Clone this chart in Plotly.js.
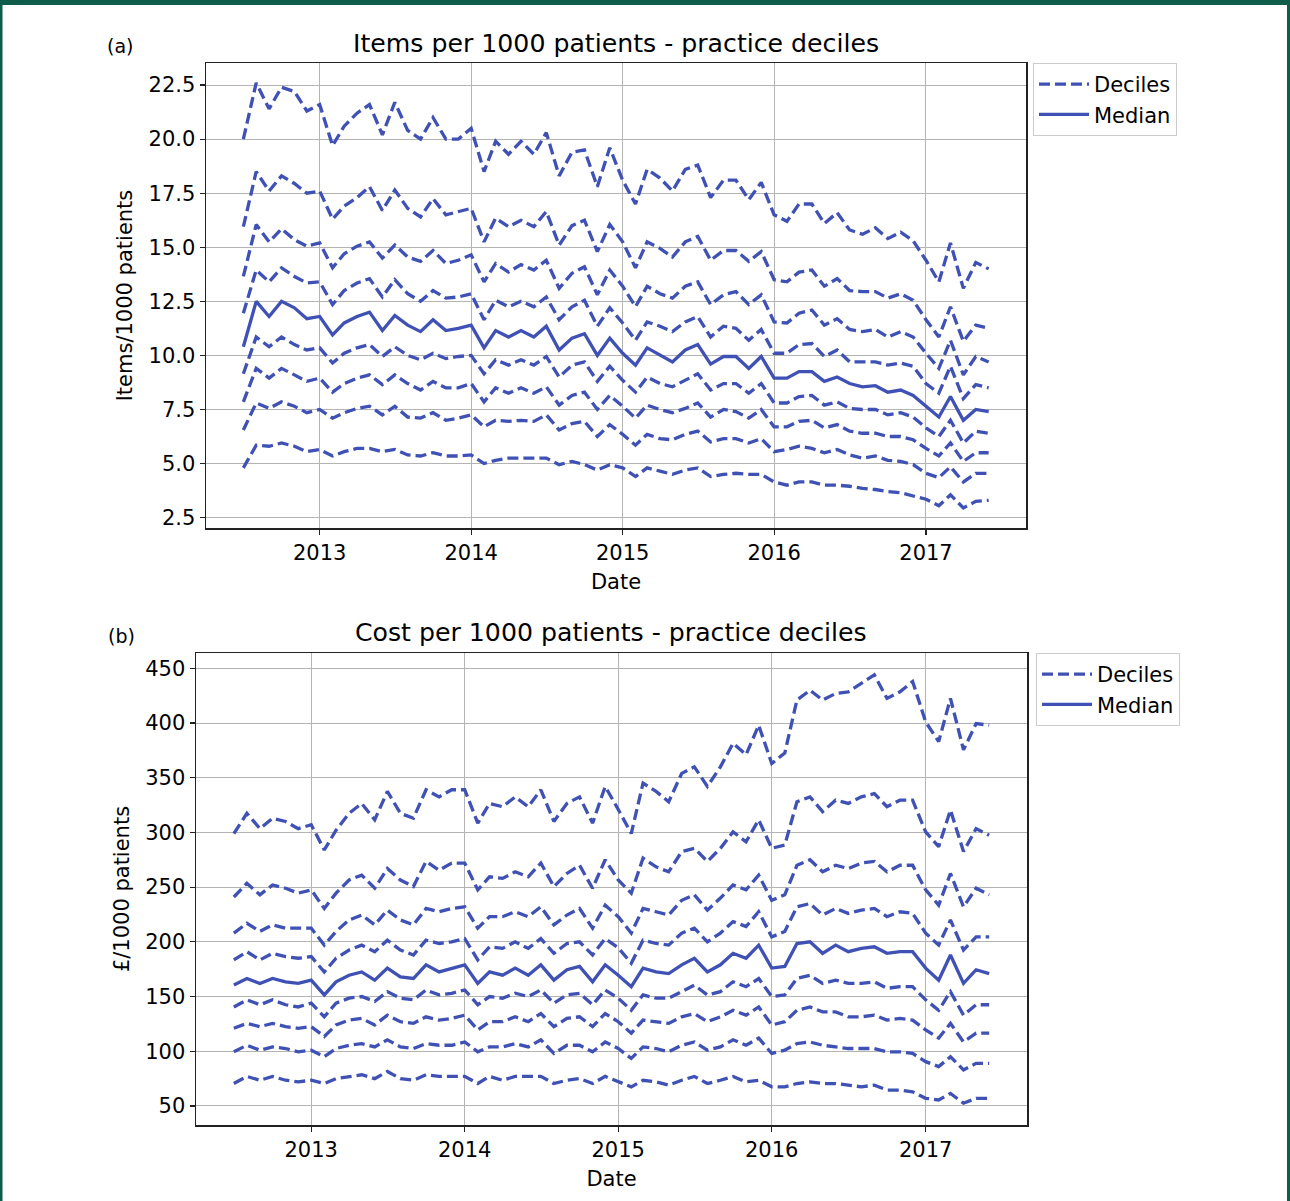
<!DOCTYPE html>
<html>
<head>
<meta charset="utf-8">
<script src="https://cdn.plot.ly/plotly-3.0.1.min.js"></script>
<style>
  html, body { margin: 0; padding: 0; background: #ffffff; }
  #chart { width: 1290px; height: 1201px; }
</style>
</head>
<body>
<div id="chart"></div>
<script>
// ---- Data -------------------------------------------------------------
const months = [
  "2012-07","2012-08","2012-09","2012-10","2012-11","2012-12",
  "2013-01","2013-02","2013-03","2013-04","2013-05","2013-06","2013-07","2013-08","2013-09","2013-10","2013-11","2013-12",
  "2014-01","2014-02","2014-03","2014-04","2014-05","2014-06","2014-07","2014-08","2014-09","2014-10","2014-11","2014-12",
  "2015-01","2015-02","2015-03","2015-04","2015-05","2015-06","2015-07","2015-08","2015-09","2015-10","2015-11","2015-12",
  "2016-01","2016-02","2016-03","2016-04","2016-05","2016-06","2016-07","2016-08","2016-09","2016-10","2016-11","2016-12",
  "2017-01","2017-02","2017-03","2017-04","2017-05","2017-06"
];

// (a) Items per 1000 patients
const itemsP90 = [20.0,22.6,21.4,22.4,22.2,21.3,21.6,19.7,20.6,21.2,21.6,20.2,21.7,20.4,20.0,21.0,20.0,20.0,20.5,18.5,19.9,19.3,19.9,19.3,20.3,18.3,19.4,19.5,17.8,19.6,18.1,17.0,18.6,18.2,17.6,18.6,18.8,17.3,18.1,18.1,17.2,18.0,16.5,16.2,17.0,17.0,16.1,16.6,15.8,15.6,15.9,15.4,15.7,15.3,14.4,13.4,15.2,13.1,14.3,14.0];
const itemsP80 = [15.95,18.5,17.6,18.3,17.95,17.5,17.6,16.3,16.9,17.3,17.8,16.7,17.65,16.8,16.4,17.25,16.5,16.65,16.8,15.25,16.35,15.95,16.25,15.95,16.65,15.1,16.0,16.25,14.8,16.05,15.25,14.05,15.25,14.95,14.55,15.25,15.5,14.4,14.85,14.85,14.35,14.8,13.5,13.4,13.85,13.95,13.2,13.55,13.0,12.95,12.95,12.65,12.85,12.55,11.65,10.85,12.25,10.65,11.4,11.25];
const itemsP70 = [13.65,16.05,15.25,15.85,15.35,15.05,15.2,14.05,14.7,15.05,15.25,14.5,15.1,14.55,14.35,14.85,14.25,14.4,14.65,13.4,14.25,13.85,14.2,13.95,14.4,13.1,13.8,14.1,12.8,13.95,13.2,12.25,13.2,12.85,12.65,13.2,13.4,12.35,12.8,12.95,12.35,12.8,11.55,11.5,11.95,12.1,11.4,11.7,11.2,11.1,11.2,10.85,11.1,10.85,10.1,9.4,10.7,9.1,9.95,9.7];
const itemsP60 = [11.95,13.95,13.4,14.05,13.65,13.35,13.4,12.35,13.0,13.35,13.55,12.7,13.5,12.85,12.5,13.0,12.65,12.7,12.85,11.65,12.55,12.25,12.5,12.25,12.7,11.65,12.25,12.55,11.35,12.2,11.5,10.7,11.55,11.35,11.1,11.55,11.8,10.85,11.35,11.25,10.7,11.2,10.1,10.1,10.5,10.55,9.95,10.25,9.7,9.7,9.7,9.55,9.65,9.5,8.7,8.25,9.5,8.0,8.65,8.5];
const itemsMedian = [10.4,12.5,11.8,12.5,12.2,11.7,11.8,10.95,11.5,11.8,12.0,11.15,11.85,11.4,11.1,11.65,11.15,11.25,11.4,10.35,11.15,10.85,11.15,10.85,11.35,10.25,10.8,11.0,10.0,10.8,10.1,9.55,10.35,10.0,9.7,10.25,10.5,9.6,9.95,9.95,9.4,9.95,8.95,8.95,9.25,9.25,8.8,9.0,8.7,8.55,8.6,8.3,8.4,8.15,7.65,7.15,8.1,7.0,7.5,7.4];
const itemsP40 = [9.15,10.85,10.4,10.85,10.5,10.25,10.35,9.65,10.1,10.35,10.5,9.95,10.4,10.0,9.8,10.1,9.85,9.95,10.0,9.15,9.8,9.55,9.8,9.55,9.95,9.0,9.55,9.7,8.8,9.5,8.85,8.3,9.0,8.7,8.55,8.85,9.15,8.4,8.7,8.7,8.25,8.7,7.8,7.8,8.1,8.15,7.7,7.85,7.55,7.5,7.5,7.25,7.35,7.15,6.65,6.25,7.0,5.95,6.5,6.4];
const itemsP30 = [7.85,9.4,8.95,9.4,9.1,8.8,8.95,8.3,8.7,8.95,9.1,8.65,9.1,8.7,8.4,8.8,8.5,8.5,8.7,7.85,8.5,8.25,8.5,8.25,8.55,7.7,8.15,8.3,7.5,8.15,7.65,7.1,7.7,7.5,7.35,7.55,7.8,7.15,7.5,7.4,7.1,7.5,6.7,6.7,6.95,7.0,6.65,6.8,6.5,6.4,6.4,6.25,6.25,6.1,5.7,5.35,5.95,5.1,5.5,5.5];
const itemsP20 = [6.55,7.8,7.55,7.85,7.65,7.35,7.5,7.1,7.35,7.55,7.65,7.25,7.65,7.15,7.1,7.35,7.0,7.1,7.25,6.7,7.0,6.95,7.0,6.95,7.25,6.55,6.85,6.95,6.25,6.8,6.35,5.85,6.35,6.15,6.1,6.35,6.5,6.0,6.15,6.15,5.95,6.15,5.55,5.65,5.8,5.7,5.5,5.65,5.4,5.25,5.35,5.15,5.1,4.95,4.55,4.35,4.85,4.15,4.55,4.55];
const itemsP10 = [4.8,5.85,5.8,5.95,5.8,5.55,5.65,5.35,5.55,5.7,5.7,5.55,5.65,5.4,5.35,5.5,5.35,5.35,5.4,5.0,5.15,5.25,5.25,5.25,5.25,4.95,5.1,4.95,4.7,4.95,4.8,4.4,4.8,4.65,4.5,4.7,4.8,4.4,4.5,4.55,4.5,4.5,4.15,4.0,4.15,4.15,4.0,4.0,3.95,3.85,3.8,3.7,3.65,3.5,3.35,3.05,3.55,2.95,3.25,3.3];

// (b) Cost per 1000 patients (£)
const costP90 = [299,317.5,303.5,313,310,303.5,307,284,302,317.5,326.5,311.5,337.5,317.5,313,339,332.5,339,339,308.5,326.5,323.5,332.5,323.5,339,310,326.5,332.5,308.5,342,321,299,345,337.5,328,354,360,342,360,381.5,371,398,363,372.5,421,430,421,427,428.5,436.5,444,422.5,428.5,438,401,383,422.5,375.5,399.5,398];
const costP80 = [241,253.5,243,252,249,244.5,247.5,230.5,244.5,256.5,261,249,267,256.5,250.5,273.5,265.5,272,272,247.5,259.5,258,264,259.5,272,250.5,262.5,270,249,275,256.5,244.5,276.5,268.5,264,282.5,285.5,273.5,285.5,300.5,291.5,311.5,285.5,288.5,328,332.5,319,329.5,326.5,332.5,335.5,323.5,329.5,329.5,300.5,287,320.5,282.5,303.5,297.5];
const costP70 = [208,217,209.5,215.5,212.5,212.5,212.5,197,209.5,220,224.5,215.5,229,220,215.5,230.5,227.5,230.5,232,212.5,223,223,227.5,223,232,215.5,224.5,230.5,212.5,233.5,223,208,230.5,227.5,224.5,238,243,229,240,252,247.5,261,238,243,270,275,264,270,267,272,273.5,264,270,270,247.5,233.5,262.5,232,249,243];
const costP60 = [183.5,191,183.5,189.5,186.5,185,186.5,172.5,185,192.5,197,191,201.5,192.5,188,201.5,198.5,200,203,183.5,195.5,194,200,194,203,189.5,198.5,200,188,203,194.5,180.5,201.5,198.5,197,208,212.5,200,208,218.5,214,227.5,204.5,209.5,232,235,224.5,230.5,226,229,230.5,223,227.5,226,208,197,220,192.5,204.5,204.5];
const costMedian = [160.5,166.5,162,166.5,163.5,162,165,151.5,163.5,169.5,172.5,165,176,168,166.5,179,172.5,176,179,162,172.5,169.5,176,169.5,179,165,174.5,177.5,163.5,179,169.5,159,176,172.5,171,179,185,172.5,179,189.5,185,197,176,177.5,198.5,200,189.5,197,191,194,195.5,189.5,191,191,176,165,188,162,174.5,171];
const costP40 = [140.5,147,142.5,147,142.5,140.5,144,131.5,144,148.5,150,145.5,154.5,148.5,147,156,151.5,153,156,142.5,150,148.5,153,150,156,144,151.5,153,142.5,156,148.5,137.5,151.5,148.5,148.5,154.5,160.5,151.5,154.5,163.5,159,166.5,150,151.5,166.5,169.5,162,165,162,162,163.5,157.5,159,159,147,137.5,154.5,133,142.5,142.5];
const costP30 = [121,125.5,122.5,125.5,122.5,121,122.5,113.5,124,128.5,130,124,133,127,125.5,131.5,128.5,130,133,119.5,127,127,131.5,127,134.5,122.5,130,131.5,122.5,134.5,127,116.5,128.5,127,125.5,131.5,134.5,127,131.5,137.5,133,140.5,124,127,137.5,140.5,136,136,131.5,131.5,133,128.5,130,128.5,119.5,112,125.5,108.5,116.5,116.5];
const costP20 = [99.5,105.5,101,104,102.5,99.5,101,95,102.5,105.5,107,104,110.5,104,102.5,107,105.5,105.5,108.5,99.5,104,104,107,104,110.5,98,105.5,105.5,99.5,108.5,102.5,93.5,104,102.5,99.5,105.5,108.5,101,104,110.5,105.5,112,98,101,107,108.5,105.5,104,102.5,102.5,102.5,99.5,99.5,98,90.5,86,95,83,89,89];
const costP10 = [70.5,77,73.5,77,73.5,72,73.5,70.5,75,77,78.5,75,81.5,75,73.5,78.5,77,77,77,70.5,77,73.5,77,77,77,70.5,73.5,75,70.5,77,72,67.5,73.5,72,69,73.5,77,70.5,73.5,77,72,73.5,67.5,67.5,70.5,72,70.5,70.5,69,67.5,69,64.5,64.5,63,57,55.5,61.5,52.5,57,57];

const itemsDeciles = [itemsP90, itemsP80, itemsP70, itemsP60, itemsP40, itemsP30, itemsP20, itemsP10];
const costDeciles  = [costP90, costP80, costP70, costP60, costP40, costP30, costP20, costP10];

const titleA = "Items per 1000 patients - practice deciles";
const titleB = "Cost per 1000 patients - practice deciles";
const yLabelA = "Items/1000 patients";
const yLabelB = "£/1000 patients";
const xLabel = "Date";
const legendDeciles = "Deciles";
const legendMedian = "Median";

// ---- Styling ----------------------------------------------------------
const W = 1290, H = 1201;
const BLUE = "#3f51b5";
const FONT = "DejaVu Sans";
const INK = "#000000";
const px = v => v / W;
const py = v => 1 - v / H;

const traces = [];
function addPanel(deciles, median, xa, ya, legendId) {
  deciles.forEach((vals, k) => {
    traces.push({
      x: months, y: vals, xaxis: xa, yaxis: ya, type: "scatter", mode: "lines",
      name: legendDeciles, legendgroup: legendId + "dec", legend: legendId,
      showlegend: k === 0,
      line: { color: BLUE, width: 3.3, dash: "11px,5px" }
    });
  });
  traces.push({
    x: months, y: median, xaxis: xa, yaxis: ya, type: "scatter", mode: "lines",
    name: legendMedian, legend: legendId, showlegend: true,
    line: { color: BLUE, width: 3.3 }
  });
}
addPanel(itemsDeciles, itemsMedian, "x", "y", "legend");
addPanel(costDeciles, costMedian, "x2", "y2", "legend2");

const axisCommon = {
  showgrid: true, gridcolor: "#b4b4b4", gridwidth: 1,
  showline: true, linecolor: "#222", linewidth: 1.5, mirror: true,
  ticks: "outside", ticklen: 5, tickwidth: 1.2, tickcolor: "#222",
  tickfont: { family: FONT, size: 21, color: INK },
  zeroline: false
};
const xCommon = Object.assign({}, axisCommon, {
  type: "date", range: ["2012-04-02", "2017-08-30"],
  tick0: "2013-01-01", dtick: "M12", tickformat: "%Y",
  title: { text: xLabel, font: { family: FONT, size: 21, color: INK }, standoff: 10 }
});

const legendCommon = {
  xanchor: "left", yanchor: "top",
  bgcolor: "#ffffff", bordercolor: "#cccccc", borderwidth: 1,
  font: { family: FONT, size: 21, color: INK }, tracegroupgap: 0,
  itemwidth: 50
};

const layout = {
  width: W, height: H,
  margin: { l: 0, r: 0, t: 0, b: 0 },
  paper_bgcolor: "#ffffff", plot_bgcolor: "#ffffff",
  font: { family: FONT, color: INK },
  xaxis: Object.assign({}, xCommon, { domain: [px(206), px(1026)], anchor: "y" }),
  yaxis: Object.assign({}, axisCommon, {
    domain: [py(528), py(63)], anchor: "x",
    range: [2.02, 23.52], tick0: 2.5, dtick: 2.5, tickformat: ".1f",
    title: { text: yLabelA, font: { family: FONT, size: 21, color: INK }, standoff: 10 }
  }),
  xaxis2: Object.assign({}, xCommon, { domain: [px(196), px(1027)], anchor: "y2" }),
  yaxis2: Object.assign({}, axisCommon, {
    domain: [py(1125), py(653)], anchor: "x2",
    range: [32.6, 464], tick0: 50, dtick: 50,
    title: { text: yLabelB, font: { family: FONT, size: 21, color: INK }, standoff: 10 }
  }),
  legend: Object.assign({}, legendCommon, { x: px(1033), y: py(63) }),
  legend2: Object.assign({}, legendCommon, { x: px(1036), y: py(653) }),
  annotations: [
    { text: titleA, xref: "paper", yref: "paper", x: px(616), y: py(43),
      xanchor: "center", yanchor: "middle", showarrow: false,
      font: { family: FONT, size: 25.2, color: INK } },
    { text: titleB, xref: "paper", yref: "paper", x: px(611), y: py(632),
      xanchor: "center", yanchor: "middle", showarrow: false,
      font: { family: FONT, size: 25.2, color: INK } },
    { text: "(a)", xref: "paper", yref: "paper", x: px(120), y: py(46),
      xanchor: "center", yanchor: "middle", showarrow: false,
      font: { family: FONT, size: 19, color: INK } },
    { text: "(b)", xref: "paper", yref: "paper", x: px(121), y: py(636),
      xanchor: "center", yanchor: "middle", showarrow: false,
      font: { family: FONT, size: 19, color: INK } }
  ],
  shapes: [
    { type: "rect", xref: "paper", yref: "paper", x0: 0, x1: 1, y0: py(5), y1: 1,
      fillcolor: "#0e5c4a", line: { width: 0 }, layer: "above" },
    { type: "rect", xref: "paper", yref: "paper", x0: 0, x1: px(2.5), y0: 0, y1: 1,
      fillcolor: "#0e5c4a", line: { width: 0 }, layer: "above" },
    { type: "rect", xref: "paper", yref: "paper", x0: px(1287), x1: 1, y0: 0, y1: 1,
      fillcolor: "#0e5c4a", line: { width: 0 }, layer: "above" }
  ],
  showlegend: true
};

Plotly.newPlot("chart", traces, layout, { displayModeBar: false, staticPlot: true });
</script>
</body>
</html>
